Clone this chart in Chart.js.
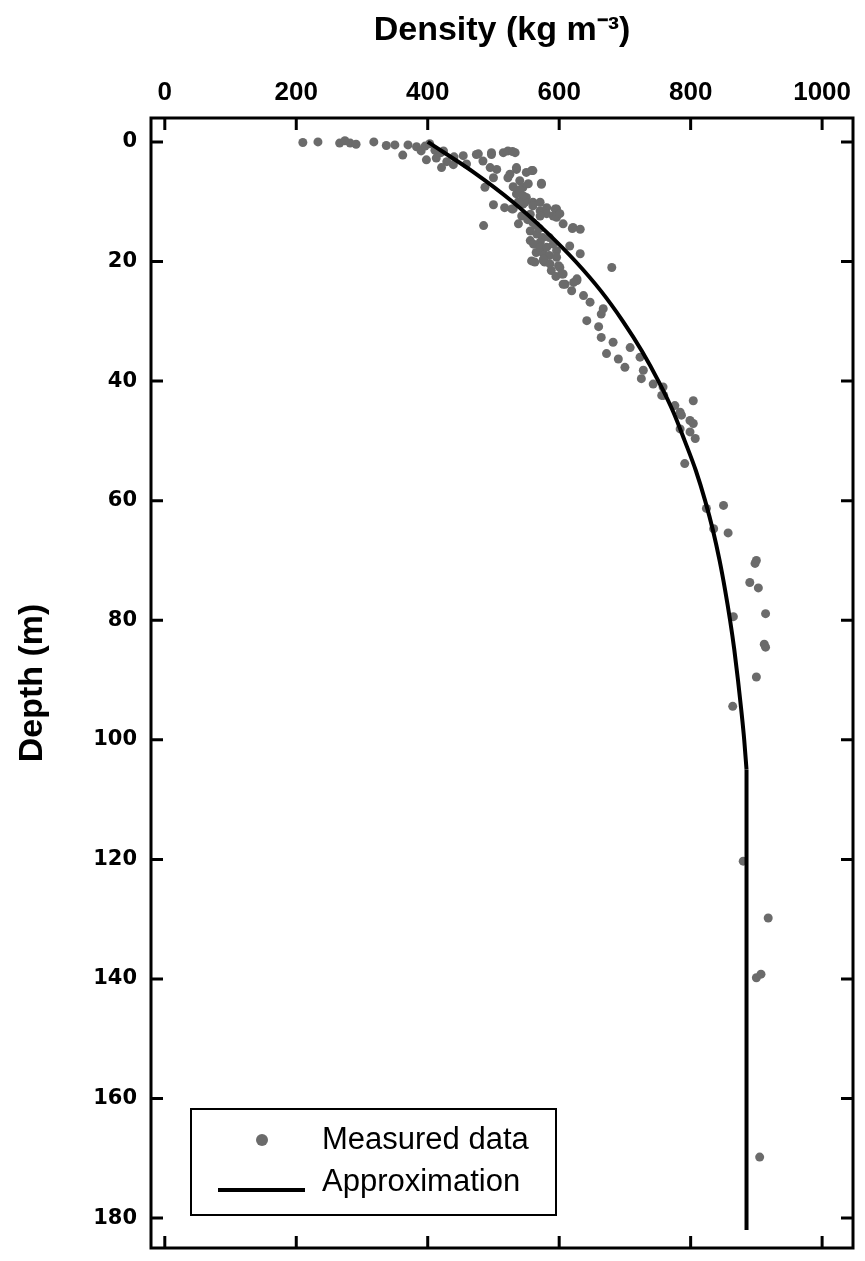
<!DOCTYPE html>
<html>
<head>
<meta charset="utf-8">
<script src="https://cdn.jsdelivr.net/npm/chart.js@4"></script>
<style>
  html, body { margin: 0; padding: 0; background: #fff; }
</style>
</head>
<body>
<canvas id="densityChart" width="865" height="1261"></canvas>
<script>
// tick labels
const xTicks = [0, 200, 400, 600, 800, 1000];
const yTicks = [0, 20, 40, 60, 80, 100, 120, 140, 160, 180];

const measuredDensity = [
  210, 233, 266, 274, 282, 291, 318, 337, 350, 362, 370, 383, 390, 396, 403, 398, 411, 413, 420, 424, 429, 439, 440, 454, 459, 421,
  474, 477, 484, 497, 497, 515, 522, 529, 533, 495, 505, 500, 487, 525, 535, 535, 550, 558, 560, 540, 545, 553, 522, 573, 573, 535, 550,
  500, 517, 528, 530, 545, 548, 560, 560, 571, 571, 581, 581, 596, 594, 591, 556, 571, 543, 596, 601, 485, 538, 606, 621, 620, 632, 556, 566, 556,
  530, 540, 545, 538, 552, 560, 565, 570, 575, 585, 565, 575, 585, 588, 595,
  561, 571, 571, 581, 591, 596, 616, 632, 558, 563, 576, 578, 586, 596, 576, 599, 601, 604, 606, 627, 627, 622, 609, 606, 619, 637, 680,
  647, 667, 664, 642, 660, 664, 682, 708, 672, 690, 700, 723, 728, 725, 743, 758, 756, 759, 804,
  776, 784, 786, 799, 804, 799, 807, 784, 791, 824, 850, 835, 857,
  900, 898, 890, 903, 865, 914, 912, 914, 900, 864, 880, 918, 900, 907, 905
];
const measuredDepth = [
  0.1, 0, 0.2, -0.2, 0.2, 0.4, 0, 0.6, 0.5, 2.2, 0.5, 0.8, 1.5, 0.7, 0.3, 3.0, 1.4, 2.7, 1.8, 1.5, 3.3, 3.8, 2.5, 2.3, 3.7, 4.3,
  2.1, 2.0, 3.2, 2.1, 1.8, 1.8, 1.5, 1.6, 1.8, 4.3, 4.6, 6.0, 7.6, 5.4, 4.6, 4.3, 5.1, 4.8, 4.8, 6.5, 7.6, 7.0, 6.0, 7.1, 6.9, 8.7, 9.3,
  10.5, 11, 11.2, 11.2, 10.4, 10.1, 10.1, 10.7, 10.1, 11.5, 11, 12, 11.2, 11.2, 12.4, 12.1, 12.4, 12.4, 12.6, 12, 14, 13.7, 13.7, 14.3, 14.5, 14.6, 14.9, 15.4, 16.5,
  7.5, 8, 9, 10, 13, 13.5, 14, 14.5, 16, 16, 18.5, 18.5, 19, 21.5, 22.5,
  17.1, 16.8, 17.6, 17.6, 17.1, 18.2, 17.4, 18.7, 19.9, 20.1, 19.9, 20.1, 20.4, 19.3, 19.6, 20.7, 21, 22.1, 22.1, 22.9, 23.2, 23.5, 23.8, 23.8, 24.9, 25.7, 21,
  26.8, 27.9, 28.8, 29.9, 30.9, 32.7, 33.5, 34.4, 35.4, 36.3, 37.7, 36, 38.2, 39.6, 40.5, 41, 42.4, 42.4, 43.3,
  44.1, 45.2, 45.7, 46.6, 47.1, 48.5, 49.6, 48, 53.8, 61.3, 60.8, 64.7, 65.4,
  70, 70.5, 73.7, 74.6, 79.4, 78.9, 84, 84.5, 89.5, 94.4, 120.3, 129.8, 139.8, 139.2, 169.8
];

// approximation curve
const approxDepth = [0, 5, 10, 15, 20, 25, 30, 35, 40, 45, 50, 55, 60, 65, 70, 75, 80, 85, 90, 95, 100, 105];
const approxDensity = [400, 469, 529, 580, 625, 664, 697, 726, 751, 773, 791, 808, 822, 834, 844, 852.5, 860, 866.5, 872, 877, 881.5, 885];
// constant part below 105 m
const tailDepth = [105, 182];
const tailDensity = [885, 885];

const FONT = "'Liberation Sans', Arial, sans-serif";

const frameAndLegend = {
  id: "frameAndLegend",
  afterDraw(chart) {
    const ctx = chart.ctx;
    const ca = chart.chartArea;
    const xs = chart.scales.x;
    const ys = chart.scales.y;
    const tl = 12;
    ctx.save();
    ctx.strokeStyle = "#000";
    ctx.lineWidth = 3;
    ctx.strokeRect(ca.left, ca.top, ca.right - ca.left, ca.bottom - ca.top);
    ctx.beginPath();
    xTicks.forEach((v) => {
      const px = xs.getPixelForValue(v);
      ctx.moveTo(px, ca.top);
      ctx.lineTo(px, ca.top + tl);
      ctx.moveTo(px, ca.bottom);
      ctx.lineTo(px, ca.bottom - tl);
    });
    yTicks.forEach((v) => {
      const py = ys.getPixelForValue(v);
      ctx.moveTo(ca.left, py);
      ctx.lineTo(ca.left + tl, py);
      ctx.moveTo(ca.right, py);
      ctx.lineTo(ca.right - tl, py);
    });
    ctx.stroke();

    // legend box
    const bx = ca.left + 40, by = ca.bottom - 139, bw = 365, bh = 106;
    ctx.lineWidth = 2;
    ctx.fillStyle = "#fff";
    ctx.fillRect(bx, by, bw, bh);
    ctx.strokeRect(bx, by, bw, bh);
    ctx.fillStyle = "#6b6b6b";
    ctx.beginPath();
    ctx.arc(bx + 71, by + 31, 6, 0, Math.PI * 2);
    ctx.fill();
    ctx.strokeStyle = "#000";
    ctx.lineWidth = 4;
    ctx.beginPath();
    ctx.moveTo(bx + 27, by + 81);
    ctx.lineTo(bx + 114, by + 81);
    ctx.stroke();
    ctx.fillStyle = "#000";
    ctx.font = "31px " + FONT;
    ctx.textBaseline = "middle";
    ctx.textAlign = "left";
    ctx.fillText("Measured data", bx + 131, by + 31);
    ctx.fillText("Approximation", bx + 131, by + 73);
    ctx.restore();
  },
};

const measured = measuredDensity.map((d, i) => ({ x: d, y: measuredDepth[i] }));
const approx = approxDensity.map((d, i) => ({ x: d, y: approxDepth[i] }));
const tail = tailDensity.map((d, i) => ({ x: d, y: tailDepth[i] }));

new Chart(document.getElementById("densityChart"), {
  type: "scatter",
  data: {
    datasets: [
      {
        label: "Approximation",
        data: approx,
        showLine: true,
        borderColor: "#000",
        borderWidth: 4,
        pointRadius: 0,
        cubicInterpolationMode: "monotone",
        order: 0,
      },
      {
        label: "Approximation (deep)",
        data: tail,
        showLine: true,
        borderColor: "#000",
        borderWidth: 4,
        pointRadius: 0,
        order: 0,
      },
      {
        label: "Measured data",
        data: measured,
        backgroundColor: "#6b6b6b",
        borderWidth: 0,
        pointRadius: 4.5,
        order: 1,
      },
    ],
  },
  options: {
    responsive: false,
    animation: false,
    layout: { padding: { top: 10, right: 12, bottom: 13, left: 0 } },
    plugins: { legend: { display: false }, tooltip: { enabled: false } },
    scales: {
      x: {
        type: "linear",
        position: "top",
        min: -21,
        max: 1047,
        afterBuildTicks: (s) => { s.ticks = xTicks.map((v) => ({ value: v })); },
        afterFit: (s) => { s.height = 108; s.paddingLeft = 0; s.paddingRight = 0; },
        grid: { display: false, drawTicks: false },
        border: { display: false },
        ticks: {
          color: "#000",
          padding: 10,
          font: { family: FONT, size: 26, weight: "bold" },
          callback: (v) => String(v),
        },
        title: {
          display: true,
          text: "Density (kg m\u207B\u00B3)",
          color: "#000",
          padding: { top: 0, bottom: 0 },
          font: { family: FONT, size: 34, weight: "bold" },
        },
      },
      y: {
        type: "linear",
        reverse: true,
        min: -4,
        max: 185,
        afterBuildTicks: (s) => { s.ticks = yTicks.map((v) => ({ value: v })); },
        afterFit: (s) => { s.width = 151; s.paddingTop = 0; s.paddingBottom = 0; },
        grid: { display: false, drawTicks: false },
        border: { display: false },
        ticks: {
          color: "#000",
          padding: 14,
          font: { family: "'DejaVu Sans', sans-serif", size: 21, weight: "bold" },
          callback: (v) => String(v),
        },
        title: {
          display: true,
          text: "Depth (m)",
          color: "#000",
          padding: { top: 12, bottom: 0 },
          font: { family: FONT, size: 34, weight: "bold" },
        },
      },
    },
  },
  plugins: [frameAndLegend],
});
</script>
</body>
</html>
